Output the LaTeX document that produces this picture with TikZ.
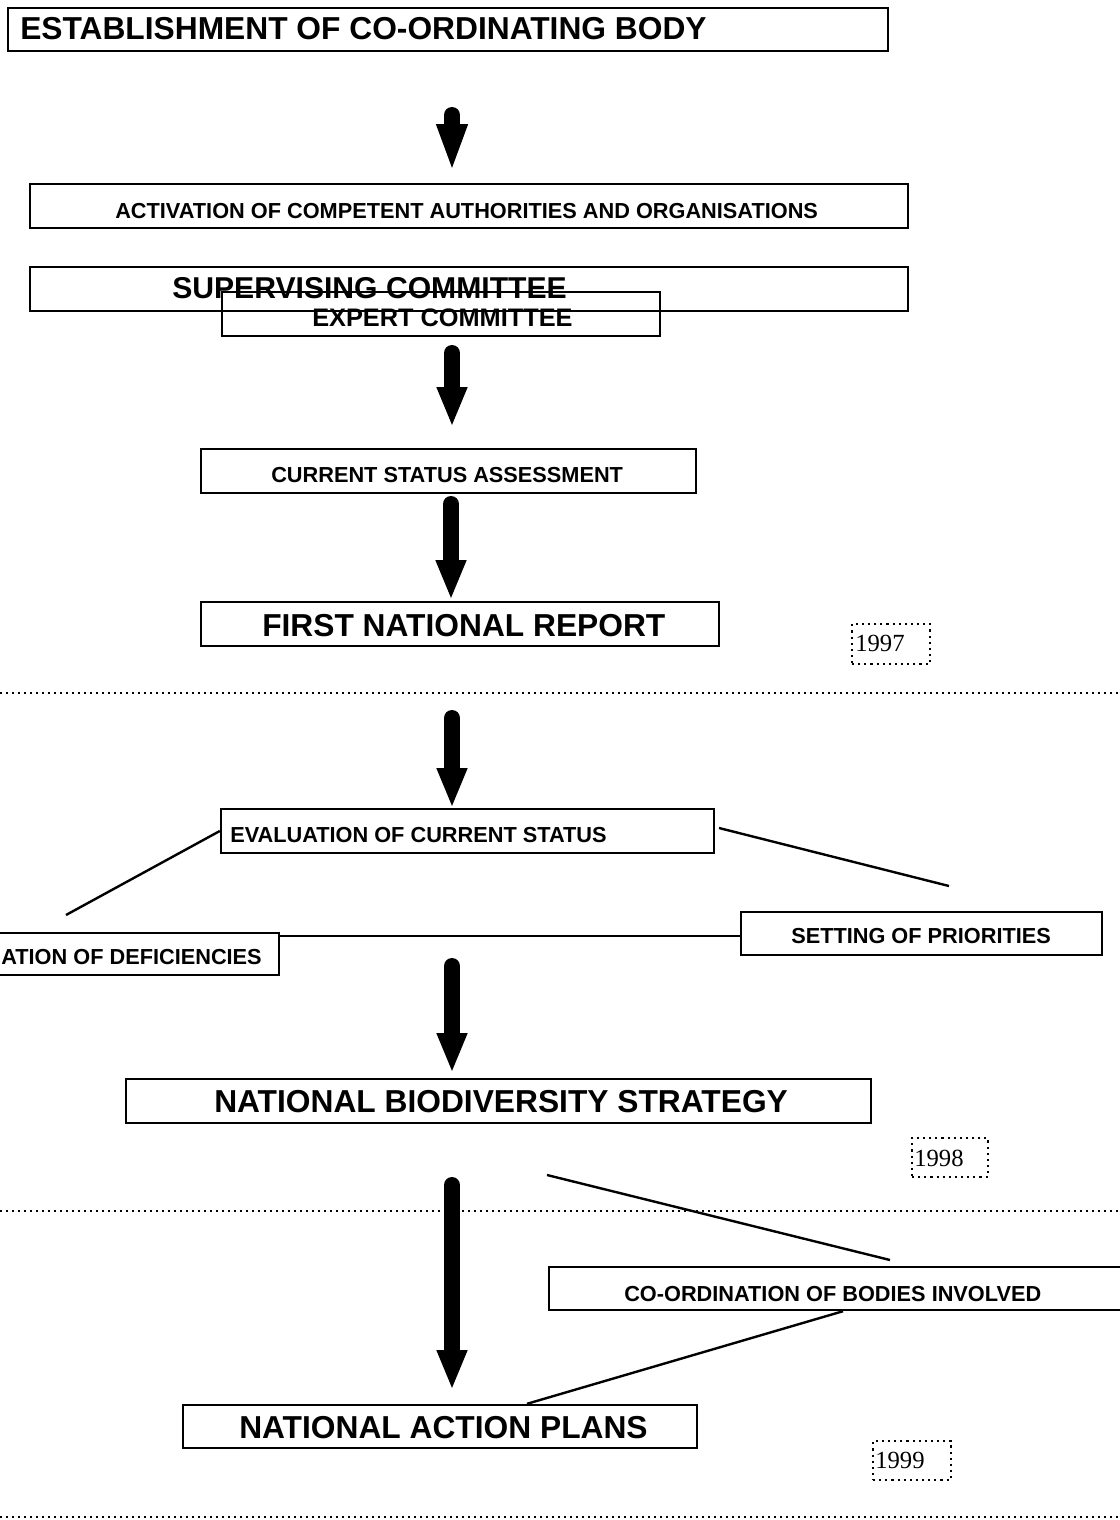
\documentclass[tikz,border=0pt]{standalone}
\usepackage{fontspec}
\setmainfont{Liberation Sans}
\newfontfamily\yearfont{Liberation Serif}
\usetikzlibrary{fit,arrows.meta}
\tikzset{
  box/.style={draw, line width=1.8pt, inner sep=0pt},
  yearbox/.style={draw, line width=1.6pt, dash pattern=on 1.6pt off 3pt, inner sep=0pt},
  sepline/.style={line width=1.5pt, dash pattern=on 1.5pt off 3pt},
  link/.style={line width=1.8pt},
  txt/.style={inner sep=0pt, anchor=base west, font=\bfseries},
  bigtxt/.style={txt, font=\bfseries\fontsize{23.8}{28}\selectfont},
  smalltxt/.style={txt, font=\bfseries\fontsize{16.3}{19}\selectfont},
  yeartxt/.style={inner sep=0pt, anchor=base west, font=\yearfont\fontsize{18.5}{22}\selectfont},
  bigarrow/.style={line width=12pt, line cap=round, -{Triangle[length=30pt,width=21pt]}},
}
\begin{document}
\begin{tikzpicture}[x=0.75pt,y=-0.75pt]
\useasboundingbox (0,0) rectangle (1120,1520);
\clip (0,0) rectangle (1120,1520);

% boxes
\node[box, fit={(8,8) (888,51)}] (estab) {};
\node[box, fit={(30,184) (908,228)}] (activ) {};
\node[box, fit={(30,267) (908,311)}] (superv) {};
\node[box, fit={(222,292) (660,336)}] (expert) {};
\node[box, fit={(201,449) (696,493)}] (current) {};
\node[box, fit={(201,602) (719,646)}] (first) {};
\node[yearbox, fit={(852,624) (930,664)}] (y97) {};
\node[box, fit={(221,809) (714,853)}] (eval) {};
\node[box, fit={(-40,933) (279,975)}] (ident) {};
\node[box, fit={(741,912) (1102,955)}] (setting) {};
\node[box, fit={(126,1079) (871,1123)}] (nbs) {};
\node[yearbox, fit={(912,1138) (988,1177)}] (y98) {};
\node[box, fit={(549,1267) (1140,1310)}] (coord) {};
\node[box, fit={(183,1405) (697,1448)}] (nap) {};
\node[yearbox, fit={(873,1441) (951,1480)}] (y99) {};

% texts
\node[bigtxt] (testab) at (20,40) {ESTABLISHMENT OF CO-ORDINATING BODY};
\node[smalltxt] (tactiv) at (115,218) {ACTIVATION OF COMPETENT AUTHORITIES AND ORGANISATIONS};
\node[txt, font=\bfseries\fontsize{22.6}{26}\selectfont] (tsuperv) at (172,298) {SUPERVISING COMMITTEE};
\node[txt, font=\bfseries\fontsize{19}{22}\selectfont] (texpert) at (312,326) {EXPERT COMMITTEE};
\node[smalltxt] (tcurrent) at (271,482) {CURRENT STATUS ASSESSMENT};
\node[bigtxt] (tfirst) at (262,636) {FIRST NATIONAL REPORT};
\node[yeartxt] (t97) at (855,651) {1997};
\node[smalltxt] (teval) at (230,842) {EVALUATION OF CURRENT STATUS};
\node[smalltxt, anchor=base east] (tident) at (262,964) {ATION OF DEFICIENCIES};
\node[smalltxt] (tsetting) at (791,943) {SETTING OF PRIORITIES};
\node[bigtxt] (tnbs) at (214,1112) {NATIONAL BIODIVERSITY STRATEGY};
\node[yeartxt] (t98) at (914,1166) {1998};
\node[smalltxt] (tcoord) at (624,1301) {CO-ORDINATION OF BODIES INVOLVED};
\node[bigtxt] (tnap) at (239,1438) {NATIONAL ACTION PLANS};
\node[yeartxt] (t99) at (875,1468) {1999};

% separators
\coordinate (s1a) at (0,693);  \coordinate (s1b) at (1120,693);
\coordinate (s2a) at (0,1211); \coordinate (s2b) at (1120,1211);
\coordinate (s3a) at (0,1517); \coordinate (s3b) at (1120,1517);
\draw[sepline] (s1a) -- (s1b);
\draw[sepline] (s2a) -- (s2b);
\draw[sepline] (s3a) -- (s3b);

% big arrows
\coordinate (a1s) at (452,115);  \coordinate (a1e) at (452,172);
\coordinate (a2s) at (452,353);  \coordinate (a2e) at (452,427);
\coordinate (a3s) at (451,504);  \coordinate (a3e) at (451,600);
\coordinate (a4s) at (452,718);  \coordinate (a4e) at (452,808);
\coordinate (a5s) at (452,966);  \coordinate (a5e) at (452,1073);
\coordinate (a6s) at (452,1185); \coordinate (a6e) at (452,1390);
\draw[bigarrow, -{Triangle[length=36pt,width=21pt]}] (a1s) -- (a1e);
\draw[bigarrow] (a2s) -- (a2e);
\draw[bigarrow] (a3s) -- (a3e);
\draw[bigarrow] (a4s) -- (a4e);
\draw[bigarrow] (a5s) -- (a5e);
\draw[bigarrow] (a6s) -- (a6e);

% thin connectors
\coordinate (l1e) at (66,915);
\draw[link] (eval.west) -- (l1e);
\coordinate (l2s) at (719,828);
\coordinate (l2e) at (949,886);
\draw[link] (l2s) -- (l2e);
\draw[link] (ident.east |- 0,936) -- (setting.west |- 0,936);
\coordinate (l3s) at (547,1175);
\coordinate (l3e) at (890,1260);
\draw[link] (l3s) -- (l3e);
\draw[link] (coord.south -| 843,0) -- (nap.north -| 527,0);
\end{tikzpicture}
\end{document}
